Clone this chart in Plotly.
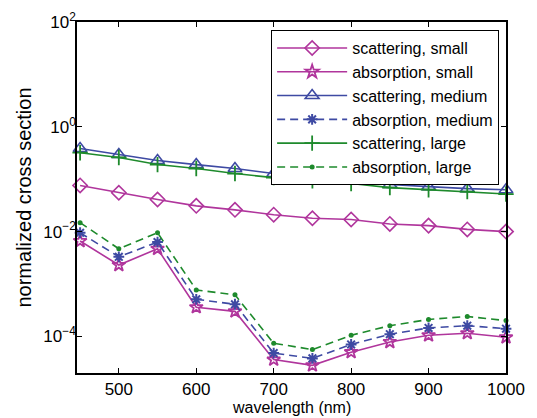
import plotly.graph_objects as go
import numpy as np

wavelength = [450, 500, 550, 600, 650, 700, 750, 800, 850, 900, 950, 1000]

scat_small = [0.076, 0.055, 0.041, 0.031, 0.026, 0.021, 0.018, 0.017, 0.014, 0.013, 0.011, 0.0100]
abs_small = [0.0066, 0.0023, 0.0047, 3.6e-4, 3.0e-4, 3.6e-5, 2.8e-5, 5.0e-5, 7.8e-5, 1.05e-4, 1.15e-4, 9.6e-5]
scat_medium = [0.385, 0.296, 0.227, 0.19, 0.16, 0.128, 0.107, 0.093, 0.079, 0.072, 0.066, 0.063]
abs_medium = [0.0095, 0.0033, 0.0063, 5.1e-4, 4.1e-4, 4.8e-5, 3.8e-5, 7.0e-5, 1.1e-4, 1.45e-4, 1.6e-4, 1.4e-4]
scat_large = [0.32, 0.26, 0.19, 0.16, 0.128, 0.107, 0.093, 0.083, 0.069, 0.063, 0.058, 0.052]
abs_large = [0.0148, 0.0047, 0.0095, 7.7e-4, 6.2e-4, 7.4e-5, 5.6e-5, 1.05e-4, 1.6e-4, 2.1e-4, 2.4e-4, 2.0e-4]

x_ticks = [500, 600, 700, 800, 900, 1000]
y_tickvals = [1e-4, 1e-2, 1e0, 1e2]
y_ticktext = ["10<sup>−4</sup>", "10<sup>−2</sup>", "10<sup>0</sup>", "10<sup>2</sup>"]

magenta = "#B0359C"
blue = "#3E4AA3"
green = "#1E8A2C"
dash = "8px,5px"

series = [
    ("scattering, small", scat_small, magenta, "solid", dict(symbol="diamond-open", size=11, line=dict(width=1.6, color=magenta))),
    ("absorption, small", abs_small, magenta, "solid", dict(symbol="star-open", size=10, line=dict(width=1.8, color=magenta))),
    ("scattering, medium", scat_medium, blue, "solid", dict(symbol="triangle-up-open", size=12, line=dict(width=1.6, color=blue))),
    ("absorption, medium", abs_medium, blue, dash, dict(symbol="asterisk-open", size=9, line=dict(width=2, color=blue))),
    ("scattering, large", scat_large, green, "solid", dict(symbol="cross-thin-open", size=11, line=dict(width=1.8, color=green))),
    ("absorption, large", abs_large, green, dash, dict(symbol="circle", size=5, color=green, line=dict(width=0))),
]

fig = go.Figure()
for name, vals, col, ds, mk in series:
    fig.add_trace(go.Scatter(
        x=wavelength, y=vals, name=name, mode="lines+markers",
        line=dict(color=col, width=1.6, dash=ds),
        marker=mk, cliponaxis=False,
    ))

font = dict(family="Liberation Sans, Arial, sans-serif", size=17, color="black")

fig.update_layout(
    width=537, height=418,
    margin=dict(l=77, r=31, t=22, b=45),
    paper_bgcolor="white", plot_bgcolor="white",
    font=font,
    showlegend=True,
    legend=dict(
        x=0.984, y=0.977, xanchor="right", yanchor="top",
        bgcolor="white", bordercolor="black", borderwidth=1,
        font=dict(family="Liberation Sans, Arial, sans-serif", size=16, color="black"),
        itemwidth=70, tracegroupgap=0,
    ),
    annotations=[dict(
        text="wavelength (nm)", xref="paper", yref="paper",
        x=0.5, y=-0.099, xanchor="center", yanchor="middle",
        showarrow=False, font=dict(family="Liberation Sans, Arial, sans-serif", size=16, color="black"),
    )],
)
fig.update_xaxes(
    range=[446, 1000], tickvals=x_ticks, automargin=False,
    showline=True, linecolor="black", linewidth=1.5, mirror="ticks",
    ticks="inside", ticklen=5, tickcolor="black", tickwidth=1,
    showgrid=False, zeroline=False, ticklabelstandoff=0,
)
fig.update_yaxes(
    type="log", range=[np.log10(2e-5), 2], automargin=False,
    tickvals=y_tickvals, ticktext=y_ticktext,
    showline=True, linecolor="black", linewidth=1.5, mirror="ticks",
    ticks="inside", ticklen=5, tickcolor="black", tickwidth=1,
    showgrid=False, zeroline=False, ticklabelstandoff=-4,
    title=dict(text="normalized cross section", standoff=6),
)

fig.write_html("out.html")
